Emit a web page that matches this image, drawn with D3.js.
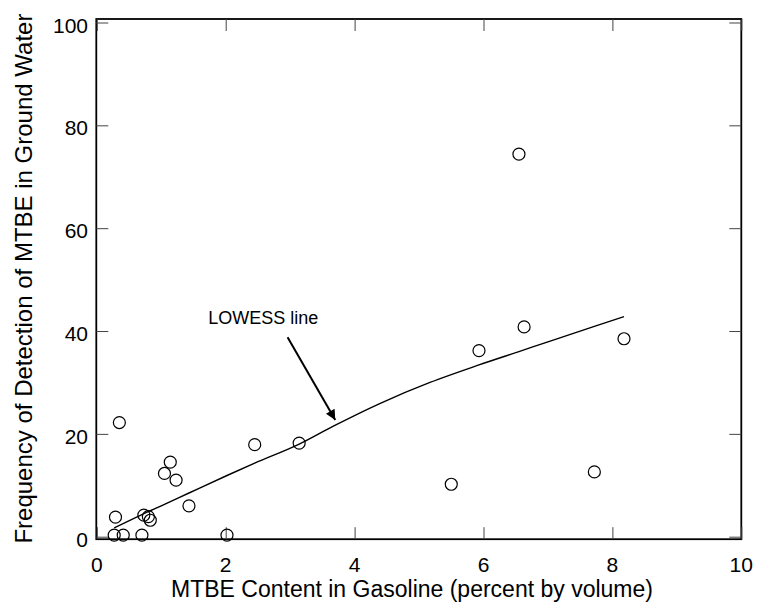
<!DOCTYPE html>
<html>
<head>
<meta charset="utf-8">
<script src="https://cdn.jsdelivr.net/npm/d3@7"></script>
<style>
  body { margin: 0; background: #fff; }
  text { font-family: "Liberation Sans", Arial, sans-serif; fill: #000; }
</style>
</head>
<body>
<div id="chart"></div>
<script>
// MTBE content (x) vs detection frequency (y)
const mtbeContent = [0.27, 0.29, 0.35, 0.41, 0.70, 0.73, 0.80, 0.83, 1.05, 1.14, 1.23, 1.43, 2.02, 2.45, 3.14, 5.50, 5.93, 6.55, 6.63, 7.72, 8.18]
const detectFreq  = [0.3, 3.8, 22.2, 0.3, 0.3, 4.2, 3.9, 3.2, 12.3, 14.5, 11.0, 6.0, 0.3, 17.9, 18.2, 10.2, 36.2, 74.4, 40.8, 12.6, 38.5]

// LOWESS smooth
const lowessX = [0.27, 0.70, 1.05, 1.43, 2.02, 2.45, 3.14, 3.67, 4.39, 5.17, 5.93, 6.55, 7.00, 7.72, 8.18]
const lowessY = [1.7, 4.3, 6.3, 8.5, 11.9, 14.3, 18.0, 21.5, 25.9, 30.0, 33.4, 36.0, 37.9, 40.9, 42.8]

const xTicks = [0, 2, 4, 6, 8, 10]
const yTicks = [0, 20, 40, 60, 80, 100]

const width = 757, height = 607
const margin = {top: 22.5, right: 15.7, bottom: 70.3, left: 96.8}

const svg = d3.select('#chart').append('svg')
    .attr('width', width)
    .attr('height', height)

const x = d3.scaleLinear()
    .domain([0, 10])
    .range([margin.left, width - margin.right])

const y = d3.scaleLinear()
    .domain([0, 100])
    .range([height - margin.bottom, margin.top])

// frame
svg.append('rect')
    .attr('x', x(0) - 0.5)
    .attr('y', y(100) - 3.5)
    .attr('width', x(10) - x(0) + 0.5)
    .attr('height', y(0) - y(100) + 6)
    .attr('fill', 'none')
    .attr('stroke', '#000')
    .attr('stroke-width', 1.8)

// inward ticks on all four sides
const tickLen = 12
const bottomAxis = d3.axisBottom(x).tickValues(xTicks).tickSize(-tickLen).tickFormat('')
const topAxis = d3.axisTop(x).tickValues(xTicks).tickSize(-tickLen).tickFormat('')
const leftAxis = d3.axisLeft(y).tickValues(yTicks).tickSize(-tickLen).tickFormat('')
const rightAxis = d3.axisRight(y).tickValues(yTicks).tickSize(-tickLen).tickFormat('')

svg.append('g').attr('transform', `translate(0,${y(0) + 2.5})`).call(bottomAxis)
svg.append('g').attr('transform', `translate(0,${y(100) - 3.5})`).call(topAxis)
svg.append('g').attr('transform', `translate(${x(0) - 0.5},0)`).call(leftAxis)
svg.append('g').attr('transform', `translate(${x(10)},0)`).call(rightAxis)
svg.selectAll('.domain').remove()
svg.selectAll('.tick line').attr('stroke', '#444').attr('stroke-width', 1)

// tick labels
svg.append('g').selectAll('text')
    .data(xTicks)
    .join('text')
    .attr('x', d => x(d))
    .attr('y', 572)
    .attr('text-anchor', 'middle')
    .attr('font-size', 21)
    .text(d => d)

svg.append('g').selectAll('text')
    .data(yTicks)
    .join('text')
    .attr('x', 88)
    .attr('y', d => y(d) + 10)
    .attr('text-anchor', 'end')
    .attr('font-size', 21)
    .text(d => d)

// axis titles
svg.append('text')
    .attr('x', 412)
    .attr('y', 597)
    .attr('text-anchor', 'middle')
    .attr('font-size', 23)
    .text('MTBE Content in Gasoline (percent by volume)')

svg.append('text')
    .attr('transform', `translate(32,${(y(0) + y(100)) / 2 - 1}) rotate(-90)`)
    .attr('text-anchor', 'middle')
    .attr('font-size', 24)
    .text('Frequency of Detection of MTBE in Ground Water')

// lowess line
const line = d3.line()
    .x(d => x(d[0]))
    .y(d => y(d[1]))
    .curve(d3.curveMonotoneX)

svg.append('path')
    .datum(d3.zip(lowessX, lowessY))
    .attr('d', line)
    .attr('fill', 'none')
    .attr('stroke', '#000')
    .attr('stroke-width', 1.4)

// points
svg.append('g').selectAll('circle')
    .data(d3.zip(mtbeContent, detectFreq))
    .join('circle')
    .attr('cx', d => x(d[0]))
    .attr('cy', d => y(d[1]))
    .attr('r', 6)
    .attr('fill', 'none')
    .attr('stroke', '#000')
    .attr('stroke-width', 1.2)

// annotation
svg.append('defs').append('marker')
    .attr('id', 'head')
    .attr('viewBox', '0 0 10 10')
    .attr('refX', 10)
    .attr('refY', 5)
    .attr('markerWidth', 14)
    .attr('markerHeight', 10)
    .attr('markerUnits', 'userSpaceOnUse')
    .attr('orient', 'auto')
    .append('path')
    .attr('d', 'M0,0L10,5L0,10Z')
    .attr('fill', '#000')

svg.append('line')
    .attr('x1', x(2.96)).attr('y1', y(38.8))
    .attr('x2', x(3.70)).attr('y2', y(22.7))
    .attr('stroke', '#000')
    .attr('stroke-width', 2)
    .attr('marker-end', 'url(#head)')

svg.append('text')
    .attr('x', x(1.73))
    .attr('y', y(41.4))
    .attr('font-size', 18)
    .text('LOWESS line')
</script>
</body>
</html>
